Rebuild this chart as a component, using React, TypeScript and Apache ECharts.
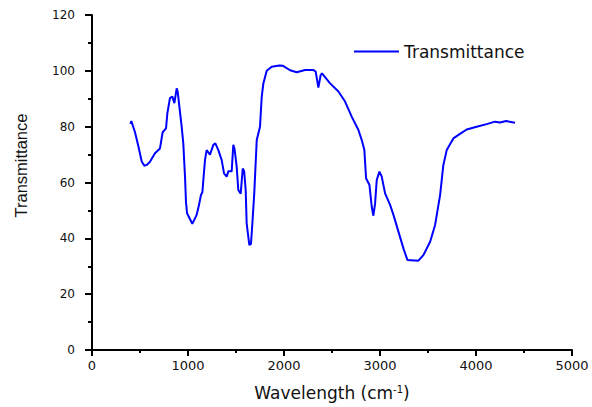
import React, { useEffect, useRef } from "react";
import * as echarts from "echarts";

const wavenumbers = [
  400, 410, 448, 483, 518, 545, 570, 604, 656, 708, 736, 771, 785, 812, 837, 858, 882, 893, 906, 934,
  951, 969, 979, 990, 1045, 1090, 1115, 1135, 1150, 1160, 1177, 1194, 1229, 1264, 1285, 1316, 1351,
  1375, 1403, 1420, 1455, 1472, 1485, 1507, 1524, 1549, 1570, 1585, 1601, 1611, 1639, 1656, 1673,
  1690, 1716, 1750, 1768, 1785, 1820, 1872, 1951, 1990, 2063, 2133, 2219, 2306, 2330, 2358, 2382,
  2396, 2480, 2567, 2636, 2705, 2775, 2810, 2837, 2855, 2890, 2914, 2931, 2949, 2966, 2994, 3018,
  3053, 3105, 3140, 3192, 3244, 3286, 3400, 3452, 3522, 3574, 3626, 3660, 3695, 3764, 3833, 3903,
  4007, 4111, 4198, 4250, 4313, 4406,
];

const transmittance = [
  81, 82, 78, 73, 67.5, 66, 66.3, 67.4, 70.5, 72.2, 78, 79.4, 84.8, 90.2, 90.8, 88.4, 93.7, 92.5, 88.4, 80,
  74, 62, 53, 49, 45.2, 48.4, 52, 55.5, 56.5, 61, 68, 71.6, 70, 73.5, 74, 71.6, 68,
  63.3, 62.1, 64, 64, 73.5, 72, 65.7, 57.3, 56, 65, 64, 57.3, 45.4, 37.6, 38, 46.6,
  56, 75.2, 80, 90.7, 95.5, 100, 101.5, 101.9, 101.8, 100.2, 99.5, 100.3, 100.3, 99.7, 94, 98.5,
  99.1, 95.5, 92.6, 89, 83.6, 78.8, 75.2, 71.6, 61.5, 59.1, 51.3, 48.1, 52.5, 60.9, 63.9, 62.1,
  56.1, 52, 48.4, 42.4, 36.4, 32.2, 32, 34, 38.8, 44.8, 55.5, 66.3, 71.6, 75.8, 77.4, 79,
  80, 80.9, 81.8, 81.5, 82, 81.4,
];

const seriesName = "Transmittance";
const xAxisTitle = "Wavelength (cm{sup|-1})";
const yAxisTitle = "Transmittance";

const WIDE = "'DejaVu Sans', sans-serif";
const NARROW = "'Liberation Sans', Arial, sans-serif";
const TXT = "#111";

export default function App() {
  const ref = useRef<HTMLDivElement>(null);
  useEffect(() => {
    document.body.style.margin = "0";
    const chart = echarts.init(ref.current!, null, { renderer: "svg" });
    const axisCommon = {
      axisLine: { show: true, lineStyle: { color: "#000", width: 2 } },
      splitLine: { show: false },
    };
    chart.setOption({
      animation: false,
      backgroundColor: "#fff",
      grid: { left: 92, right: 20, top: 15, bottom: 57, containLabel: false },
      legend: {
        data: [seriesName],
        left: 349,
        top: 38,
        icon: "rect",
        itemWidth: 45,
        itemHeight: 2,
        itemGap: 5,
        textStyle: { color: TXT, fontSize: 17, fontFamily: WIDE },
      },
      xAxis: {
        type: "value",
        min: 0,
        max: 5000,
        interval: 1000,
        name: xAxisTitle,
        nameLocation: "middle",
        nameGap: 34,
        ...axisCommon,
        axisTick: { show: true, inside: false, length: 6, lineStyle: { color: "#000", width: 2 } },
        minorTick: { show: true, splitNumber: 2, length: 3, lineStyle: { color: "#000", width: 2 } },
        axisLabel: {
          color: TXT,
          fontSize: 13,
          fontFamily: WIDE,
          margin: 9,
          formatter: (v: number) => String(v),
        },
        nameTextStyle: {
          color: TXT,
          fontSize: 17,
          fontFamily: WIDE,
          rich: { sup: { fontSize: 10, fontFamily: WIDE, color: TXT, padding: [0, 0, 8, 0] } },
        },
      },
      yAxis: {
        type: "value",
        min: 0,
        max: 120,
        interval: 20,
        name: yAxisTitle,
        nameLocation: "middle",
        nameGap: 63,
        nameRotate: 90,
        ...axisCommon,
        axisTick: { show: true, inside: false, length: 7, lineStyle: { color: "#000", width: 2 } },
        minorTick: { show: true, splitNumber: 2, length: 4, lineStyle: { color: "#000", width: 2 } },
        axisLabel: { color: TXT, fontSize: 12, fontFamily: WIDE, margin: 17 },
        nameTextStyle: { color: TXT, fontSize: 16.5, fontFamily: NARROW, padding: [0, 0, 0, 34] },
      },
      series: [
        {
          name: seriesName,
          type: "line",
          data: wavenumbers.map((w, i) => [w, transmittance[i]]),
          showSymbol: false,
          symbol: "none",
          lineStyle: { color: "#0000ff", width: 2 },
          itemStyle: { color: "#0000ff" },
        },
      ],
    });
    return () => chart.dispose();
  }, []);
  return <div ref={ref} style={{ width: 592, height: 407 }} />;
}
